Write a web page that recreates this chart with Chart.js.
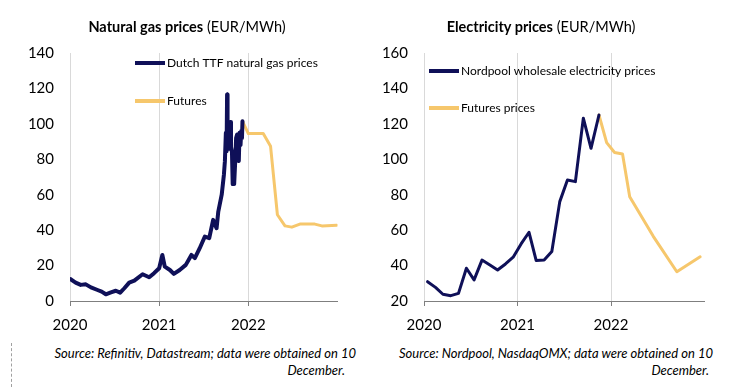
<!DOCTYPE html>
<html lang="en">
<head>
<meta charset="UTF-8">
<title>Gas and electricity prices</title>
<script src="https://cdn.jsdelivr.net/npm/chart.js"></script>
<style>
  body {
    margin: 0;
    width: 732px;
    height: 387px;
    position: relative;
    overflow: hidden;
    background: #fff;
    color: #000;
    font-family: Lato, 'Open Sans', sans-serif;
  }
  .panel { position: absolute; top: 0; width: 366px; height: 345px; }
  .title {
    position: absolute;
    top: 18px;
    font-size: 14.5px;
    line-height: 18px;
    white-space: nowrap;
    transform: translateX(-50%);
  }
  .source {
    position: absolute;
    font-size: 13px;
    line-height: 16px;
    font-style: italic;
    white-space: nowrap;
  }
  .dots { position: absolute; left: 11px; top: 343px; height: 44px; border-left: 1px dashed #a0a0a0; }
</style>
</head>
<body>
  <div class="panel" style="left:0"><canvas id="gasChart"></canvas></div>
  <div class="panel" style="left:366px"><canvas id="elecChart"></canvas></div>

  <div class="title" style="left:187px"><b>Natural gas prices</b> (EUR/MWh)</div>
  <div class="title" style="left:541px"><b>Electricity prices</b> (EUR/MWh)</div>

  <div class="source" style="right:376px; top:345px">Source: Refinitiv, Datastream; data were obtained on 10</div>
  <div class="source" style="right:387px; top:362px">December.</div>
  <div class="source" style="right:19px; top:345px">Source: Nordpool, NasdaqOMX; data were obtained on 10</div>
  <div class="source" style="right:23px; top:362px">December.</div>
  <div class="dots"></div>

<script>
// ---- data ----
const yearTicks = [2020, 2021, 2022];

const gasDates = ['2020-01-02','2020-01-24','2020-02-14','2020-03-06','2020-03-27','2020-04-23','2020-05-10','2020-05-27',
  '2020-06-17','2020-07-07','2020-07-25','2020-08-11','2020-08-31','2020-09-21','2020-10-25','2020-11-21','2020-12-11',
  '2021-01-01','2021-01-14','2021-01-24','2021-02-14','2021-03-02','2021-03-26','2021-04-20','2021-05-13','2021-05-27',
  '2021-06-16','2021-07-07','2021-07-25','2021-08-10','2021-08-24','2021-08-31','2021-09-14','2021-09-23','2021-09-27',
  '2021-10-01','2021-10-04','2021-10-06','2021-10-08','2021-10-12','2021-10-14','2021-10-19','2021-10-22','2021-10-26',
  '2021-10-29','2021-11-01','2021-11-04','2021-11-08','2021-11-12','2021-11-16','2021-11-19','2021-11-23','2021-11-26',
  '2021-11-30','2021-12-03','2021-12-06','2021-12-08'];
const gasPrices = [12.4,10.4,9.1,9.4,7.7,6.2,5.3,3.8,
  4.9,5.8,4.7,7.2,10.4,11.5,15.1,13.4,15.7,
  18.5,26.0,19.4,17.5,15.3,17.5,20.4,26.0,24.2,
  29.8,36.4,35.5,45.8,41.1,50.5,60.0,71.3,78.8,
  95.0,84.5,116.6,88.0,98.0,86.0,101.0,87.0,84.0,
  66.0,72.0,66.0,78.0,92.0,94.0,82.0,79.0,95.0,
  88.0,96.0,92.0,101.5];

const gasFutDates = ['2021-12-08','2022-01-01','2022-03-03','2022-04-02','2022-04-30','2022-05-31',
  '2022-06-28','2022-07-31','2022-09-30','2022-10-29','2022-12-29'];
const gasFutPrices = [101.5,94.5,94.5,87.3,48.7,42.4,41.7,43.4,43.4,42.4,42.8];

const elecMonths = ['2020-01','2020-02','2020-03','2020-04','2020-05','2020-06','2020-07','2020-08','2020-09','2020-10',
  '2020-11','2020-12','2021-01','2021-02','2021-03','2021-04','2021-05','2021-06','2021-07','2021-08','2021-09',
  '2021-10','2021-11'];
const elecPrices = [30.9,27.7,23.8,23.0,24.3,38.5,31.9,43.1,40.3,37.5,
  40.9,44.7,52.2,58.8,42.8,43.1,47.9,76.1,88.3,87.4,123.2,
  106.2,125.0];

const elecFutMonths = ['2021-11','2021-12','2022-01','2022-02','2022-03','2022-06','2022-09','2022-12'];
const elecFutPrices = [125.0,109.4,103.8,103.0,78.9,56.5,36.5,45.0];

const navy = '#0f1058';
const gold = '#f6c76c';
const font = 'Lato, "Open Sans", sans-serif';

// date string -> decimal year (monthly values sit mid-month)
function yr(d) {
  const y = +d.slice(0, 4), m = +d.slice(5, 7) - 1, day = d.length > 7 ? +d.slice(8, 10) : 15;
  const t0 = Date.UTC(y, 0, 1), t1 = Date.UTC(y + 1, 0, 1);
  return y + (Date.UTC(y, m, day) - t0) / (t1 - t0);
}
function pts(dates, values) {
  return dates.map((d, i) => ({ x: yr(d), y: values[i] }));
}

// legend drawn inside the plot, one line sample + label per dataset
const inlineLegend = {
  id: 'inlineLegend',
  afterDraw(chart, args, opts) {
    const ctx = chart.ctx;
    ctx.save();
    chart.data.datasets.forEach((ds, i) => {
      const y = opts.y[i];
      ctx.strokeStyle = ds.borderColor;
      ctx.lineWidth = 4;
      ctx.beginPath();
      ctx.moveTo(opts.x, y);
      ctx.lineTo(opts.x + 30, y);
      ctx.stroke();
      ctx.fillStyle = '#000';
      ctx.font = '12px ' + font;
      ctx.textBaseline = 'middle';
      ctx.fillText(ds.label, opts.x + 32, y);
    });
    ctx.restore();
  }
};

function makeChart(id, datasets, yMin, yMax, plotLeft, plotRight, legendPos) {
  return new Chart(document.getElementById(id), {
    type: 'line',
    data: { datasets: datasets },
    plugins: [inlineLegend],
    options: {
      responsive: true,
      maintainAspectRatio: false,
      animation: false,
      layout: { padding: { left: 0, top: 53, right: 366 - plotRight, bottom: 0 } },
      elements: { point: { radius: 0 }, line: { tension: 0, borderJoinStyle: 'round', borderCapStyle: 'round' } },
      scales: {
        x: {
          type: 'linear',
          min: 2020,
          max: 2023,
          afterBuildTicks: s => { s.ticks = yearTicks.map(v => ({ value: v })); },
          afterFit: s => { s.height = 44; },
          ticks: { color: '#000', font: { family: font, size: 15 }, padding: 10, callback: v => String(v) },
          grid: { color: '#d9d9d9', tickColor: '#7f7f7f', tickLength: 5 },
          border: { color: '#7f7f7f' }
        },
        y: {
          min: yMin,
          max: yMax,
          afterFit: s => { s.width = plotLeft; },
          ticks: { stepSize: 20, color: '#000', font: { family: font, size: 15 }, padding: 16 },
          grid: { display: false, drawTicks: false },
          border: { display: false }
        }
      },
      plugins: {
        legend: { display: false },
        tooltip: { enabled: false },
        inlineLegend: legendPos
      }
    }
  });
}

makeChart('gasChart', [
  { label: 'Dutch TTF natural gas prices', data: pts(gasDates, gasPrices), borderColor: navy, borderWidth: 4 },
  { label: 'Futures', data: pts(gasFutDates, gasFutPrices), borderColor: gold, borderWidth: 3 }
], 0, 140, 70, 337.5, { x: 135, y: [63, 101] });

makeChart('elecChart', [
  { label: 'Nordpool wholesale electricity prices', data: pts(elecMonths, elecPrices), borderColor: navy, borderWidth: 3 },
  { label: 'Futures prices', data: pts(elecFutMonths, elecFutPrices), borderColor: gold, borderWidth: 3 }
], 20, 160, 58, 338.5, { x: 63, y: [71, 108] });
</script>
</body>
</html>
